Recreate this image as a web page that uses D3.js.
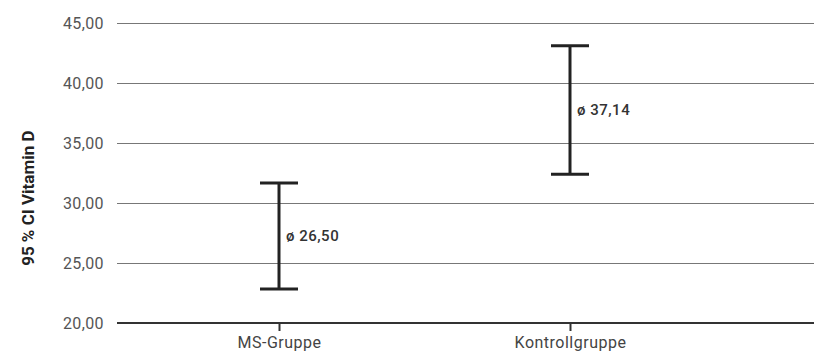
<!DOCTYPE html>
<html>
<head>
<meta charset="utf-8">
<script src="https://cdn.jsdelivr.net/npm/d3@7"></script>
<style>
  body { margin: 0; background: #fff; }
  text { font-family: Roboto, "DejaVu Sans", sans-serif; }
</style>
</head>
<body>
<div id="chart"></div>
<script>
// data
var groups = ["MS-Gruppe", "Kontrollgruppe"];
var means = [26.5, 37.14];
var ciLow = [22.83, 32.4];
var ciHigh = [31.67, 43.1];
var yTicks = [20, 25, 30, 35, 40, 45];

var W = 814, H = 354;
var margin = { top: 23, right: 0, bottom: 31, left: 117 };
var width = W - margin.left - margin.right,
  height = H - margin.top - margin.bottom;

var svg = d3
  .select("#chart")
  .append("svg")
  .attr("width", W)
  .attr("height", H)
  .append("g")
  .attr("transform", "translate(" + margin.left + "," + margin.top + ")");

var y = d3.scaleLinear().domain([20, 45]).range([height, 0]);

// two groups sit at 279 and 570 in the picture
var x = d3
  .scalePoint()
  .domain(groups)
  .range([279 - margin.left, 570 - margin.left]);

var fmt = function (v) {
  return d3.format(".2f")(v).replace(".", ",");
};

// gridlines + y tick labels
var yAxis = svg
  .append("g")
  .call(d3.axisLeft(y).tickValues(yTicks).tickSize(-width).tickPadding(13).tickFormat(fmt));
yAxis.select(".domain").remove();
yAxis.selectAll("line").attr("stroke", "#777").attr("stroke-width", 1);
yAxis
  .selectAll("text")
  .attr("fill", "#555")
  .style("font-size", "16px")
  .style("letter-spacing", "0.4px");

// x axis baseline
var xAxis = svg
  .append("g")
  .attr("transform", "translate(0," + height + ")")
  .call(d3.axisBottom(x).tickSize(8).tickPadding(6));
xAxis.select(".domain").remove();
xAxis
  .append("line")
  .attr("x1", 0)
  .attr("x2", width)
  .attr("stroke", "#333")
  .attr("stroke-width", 2);
xAxis.selectAll(".tick line").attr("stroke", "#333").attr("stroke-width", 2);
xAxis
  .selectAll("text")
  .attr("fill", "#444")
  .style("font-size", "16px")
  .style("letter-spacing", "0.5px");

// y axis title
svg
  .append("text")
  .attr("transform", "rotate(-90)")
  .attr("x", -(y(30.4)))
  .attr("y", -83)
  .attr("text-anchor", "middle")
  .attr("fill", "#222")
  .style("font-size", "17px")
  .style("font-weight", "bold")
  .text("95 % CI Vitamin D");

var rows = groups.map(function (g, i) {
  return { group: g, mean: means[i], lo: ciLow[i], hi: ciHigh[i] };
});

var capW = 19;
var bars = svg
  .selectAll(".err")
  .data(rows)
  .enter()
  .append("g")
  .attr("class", "err")
  .attr("stroke", "#222")
  .attr("stroke-width", 3);

bars
  .append("line")
  .attr("x1", (d) => x(d.group))
  .attr("x2", (d) => x(d.group))
  .attr("y1", (d) => y(d.hi))
  .attr("y2", (d) => y(d.lo));
bars
  .append("line")
  .attr("x1", (d) => x(d.group) - capW)
  .attr("x2", (d) => x(d.group) + capW)
  .attr("y1", (d) => y(d.hi))
  .attr("y2", (d) => y(d.hi));
bars
  .append("line")
  .attr("x1", (d) => x(d.group) - capW)
  .attr("x2", (d) => x(d.group) + capW)
  .attr("y1", (d) => y(d.lo))
  .attr("y2", (d) => y(d.lo));

svg
  .selectAll(".mean-label")
  .data(rows)
  .enter()
  .append("text")
  .attr("class", "mean-label")
  .attr("x", (d) => x(d.group) + 7)
  .attr("y", (d) => (y(d.hi) + y(d.lo)) / 2)
  .attr("dy", "0.35em")
  .attr("fill", "#333")
  .style("font-size", "15px")
  .style("font-weight", "500")
  .style("letter-spacing", "0.5px")
  .text((d) => "ø " + fmt(d.mean));
</script>
</body>
</html>
